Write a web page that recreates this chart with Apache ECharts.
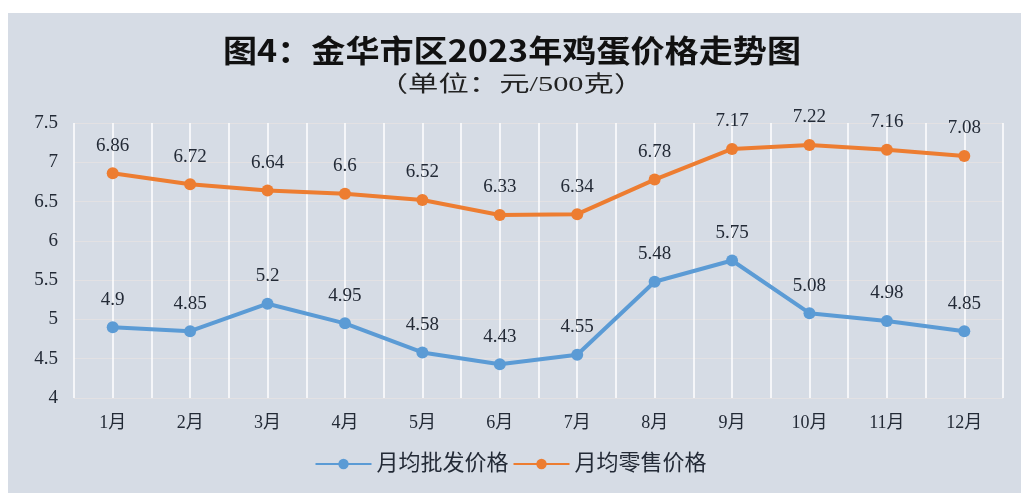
<!DOCTYPE html>
<html><head><meta charset="utf-8">
<script src="https://cdn.jsdelivr.net/npm/echarts@6/dist/echarts.min.js"></script>
<style>html,body{margin:0;padding:0;background:#fff;}#c{width:1021px;height:493px;}</style>
</head><body><div id="c"></div>
<script>
const categories = ['1月','2月','3月','4月','5月','6月','7月','8月','9月','10月','11月','12月'];
const wholesale = [4.9, 4.85, 5.2, 4.95, 4.58, 4.43, 4.55, 5.48, 5.75, 5.08, 4.98, 4.85];
const retail = [6.86, 6.72, 6.64, 6.6, 6.52, 6.33, 6.34, 6.78, 7.17, 7.22, 7.16, 7.08];
const seriesNames = ['月均批发价格', '月均零售价格'];
const titleText = '图4：金华市区2023年鸡蛋价格走势图';
const subtitleText = '（单位：元/500克）';

const halfCats = [];
for (let i = 0; i < categories.length * 2; i++) halfCats.push('');

const FONT = '"Liberation Serif", "Noto Sans CJK SC", serif';
const TXT = '#232a36';
const chart = echarts.init(document.getElementById('c'));
chart.setOption({
  backgroundColor: '#fff',
  animation: false,
  graphic: [
    {type: 'rect', z: -10, shape: {x: 8, y: 13, width: 1013, height: 480}, style: {fill: '#d6dce5'}},
    {type: 'text', x: 512, y: 50, scaleX: 1.1,
      style: {x: 0, y: 0, text: titleText, textAlign: 'center', textVerticalAlign: 'middle',
        font: 'bold 31px "Noto Sans CJK SC", sans-serif', fill: '#111'}},
    {type: 'text', x: 511, y: 85, scaleX: 1.38,
      style: {x: 0, y: 0, text: subtitleText, textAlign: 'center', textVerticalAlign: 'middle',
        font: '22px "Liberation Serif", "Noto Sans CJK SC", serif', fill: '#222'}}
  ],
  legend: {
    bottom: 13, left: 'center', itemWidth: 56, itemHeight: 13, itemGap: 4,
    textStyle: {fontFamily: FONT, fontSize: 22, color: TXT},
    data: seriesNames
  },
  grid: {left: 74, right: 18, top: 123, bottom: 95},
  xAxis: [
    {type: 'category', data: categories, boundaryGap: true,
      axisLine: {show: false}, axisTick: {show: false},
      axisLabel: {fontFamily: FONT, fontSize: 18, color: TXT, margin: 16},
      splitLine: {show: false}},
    {type: 'category', data: halfCats, boundaryGap: true, position: 'bottom',
      axisLine: {show: false}, axisTick: {show: false}, axisLabel: {show: false},
      splitLine: {show: true, interval: 0, lineStyle: {color: '#ffffff', width: 1.5}}}
  ],
  yAxis: {type: 'value', min: 4, max: 7.5, interval: 0.5,
    axisLine: {show: false}, axisTick: {show: false},
    axisLabel: {fontFamily: FONT, fontSize: 19, color: TXT, margin: 16},
    splitLine: {lineStyle: {color: '#e3e1e3', width: 1}}},
  series: [
    {name: seriesNames[0], type: 'line', data: wholesale, xAxisIndex: 0,
      symbol: 'circle', symbolSize: 12,
      lineStyle: {color: '#5b9bd5', width: 4}, itemStyle: {color: '#5b9bd5'},
      label: {show: true, position: 'top', distance: 12, fontFamily: FONT, fontSize: 19, color: TXT}},
    {name: seriesNames[1], type: 'line', data: retail, xAxisIndex: 0,
      symbol: 'circle', symbolSize: 12,
      lineStyle: {color: '#ed7d31', width: 4}, itemStyle: {color: '#ed7d31'},
      label: {show: true, position: 'top', distance: 12, fontFamily: FONT, fontSize: 19, color: TXT}}
  ]
});
</script></body></html>
